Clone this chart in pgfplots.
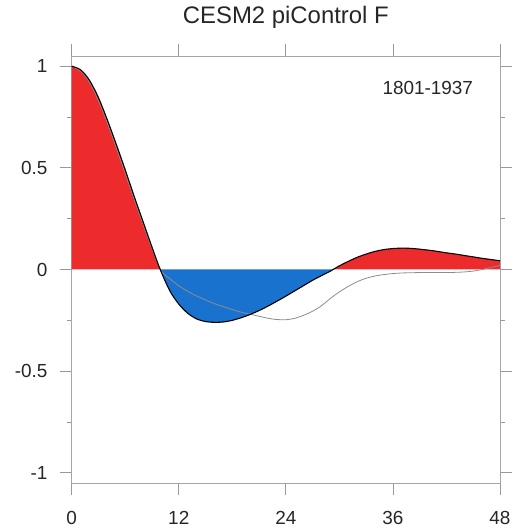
\documentclass[border=0pt]{standalone}
\usepackage{fontspec}
\setmainfont{Liberation Sans}
\usepackage{pgfplots}
\pgfplotsset{compat=1.18}

\definecolor{posred}{RGB}{237,42,44}
\definecolor{negblue}{RGB}{26,114,207}

\begin{document}
\begin{tikzpicture}
  \useasboundingbox (-71.7bp,-49bp) rectangle (441.3bp,483bp);
  \begin{axis}[
    scale only axis,
    width=428.3bp, height=427bp,
    xmin=0, xmax=48, ymin=-1.05, ymax=1.05,
    xtick={0,12,24,36,48},
    ytick={-1,-0.5,0,0.5,1},
    yticklabels={-1,-0.5,0,0.5,1},
    minor y tick num=1,
    tick align=outside,
    major tick length=12bp, minor tick length=5bp,
    axis line style={black!35, line width=0.8bp},
    every tick/.style={black!40, line width=0.8bp},
    tick label style={font=\fontsize{19}{20}\selectfont, text=black!85, inner sep=0pt},
    /pgf/number format/assume math mode=true,
    yticklabel shift=12bp,
    xticklabel shift=16bp,
    title={CESM2 piControl F},
    title style={font=\fontsize{24}{26}\selectfont, text=black!85, at={(0.5,1)}, anchor=base, yshift=27bp, inner sep=0pt},
  ]

  % positive lobe 1
  \addplot[draw=none, fill=posred] coordinates {
    (0,0) (0,1.00) (1,0.982) (2,0.93) (3,0.845) (4,0.735) (5,0.615) (6,0.49)
    (7,0.36) (8,0.235) (9,0.11) (9.92,0)
  } \closedcycle;
  % negative lobe
  \addplot[draw=none, fill=negblue] coordinates {
    (9.92,0) (11,-0.105) (12,-0.17) (13,-0.215) (14,-0.243) (15,-0.256)
    (16,-0.260) (17,-0.258) (18,-0.250) (19,-0.237) (20,-0.221) (21,-0.202)
    (22,-0.180) (23,-0.156) (24,-0.131) (25,-0.105) (26,-0.079) (27,-0.053)
    (28,-0.030) (29,-0.008) (29.3,0)
  } \closedcycle;
  % positive lobe 2
  \addplot[draw=none, fill=posred] coordinates {
    (29.3,0) (30,0.018) (31,0.040) (32,0.060) (33,0.076) (34,0.089) (35,0.098)
    (36,0.103) (37,0.105) (38,0.104) (39,0.100) (40,0.095) (41,0.089) (42,0.082)
    (43,0.076) (44,0.069) (45,0.062) (46,0.055) (47,0.049) (48,0.043) (48,0)
  } \closedcycle;

  % second (reference) autocorrelation
  \addplot[black!45, line width=0.8bp, smooth] coordinates {
    (0,1.00) (1,0.975) (2,0.92) (3,0.83) (4,0.72) (5,0.598) (6,0.472) (7,0.345)
    (8,0.222) (9,0.102) (10,-0.005) (11,-0.045) (12,-0.08) (13,-0.107) (14,-0.13)
    (15,-0.15) (16,-0.168) (17,-0.183) (18,-0.197) (19,-0.21) (20,-0.22)
    (21,-0.23) (22,-0.24) (23,-0.246) (24,-0.247) (25,-0.24) (26,-0.225)
    (27,-0.205) (28,-0.178) (29,-0.142) (30,-0.11) (31,-0.083) (32,-0.06)
    (33,-0.043) (34,-0.032) (35,-0.025) (36,-0.02) (37,-0.017) (38,-0.016)
    (39,-0.015) (40,-0.015) (41,-0.015) (42,-0.015) (43,-0.014) (44,-0.012)
    (45,-0.008) (46,0.0) (47,0.01) (48,0.02)
  };

  % main autocorrelation
  \addplot[black, line width=1.1bp, smooth] coordinates {
    (0,1.00) (1,0.982) (2,0.93) (3,0.845) (4,0.735) (5,0.615) (6,0.49)
    (7,0.36) (8,0.235) (9,0.11) (9.92,0) (11,-0.105) (12,-0.17) (13,-0.215)
    (14,-0.243) (15,-0.256) (16,-0.260) (17,-0.258) (18,-0.250) (19,-0.237)
    (20,-0.221) (21,-0.202) (22,-0.180) (23,-0.156) (24,-0.131) (25,-0.105)
    (26,-0.079) (27,-0.053) (28,-0.030) (29,-0.008) (29.3,0) (30,0.018)
    (31,0.040) (32,0.060) (33,0.076) (34,0.089) (35,0.098) (36,0.103)
    (37,0.105) (38,0.104) (39,0.100) (40,0.095) (41,0.089) (42,0.082)
    (43,0.076) (44,0.069) (45,0.062) (46,0.055) (47,0.049) (48,0.043)
  };

  \node[anchor=base east, inner sep=0pt, font=\fontsize{19}{20}\selectfont, text=black!85]
    at (axis cs:45,0.862) {1801-1937};
  \end{axis}
\end{tikzpicture}
\end{document}
